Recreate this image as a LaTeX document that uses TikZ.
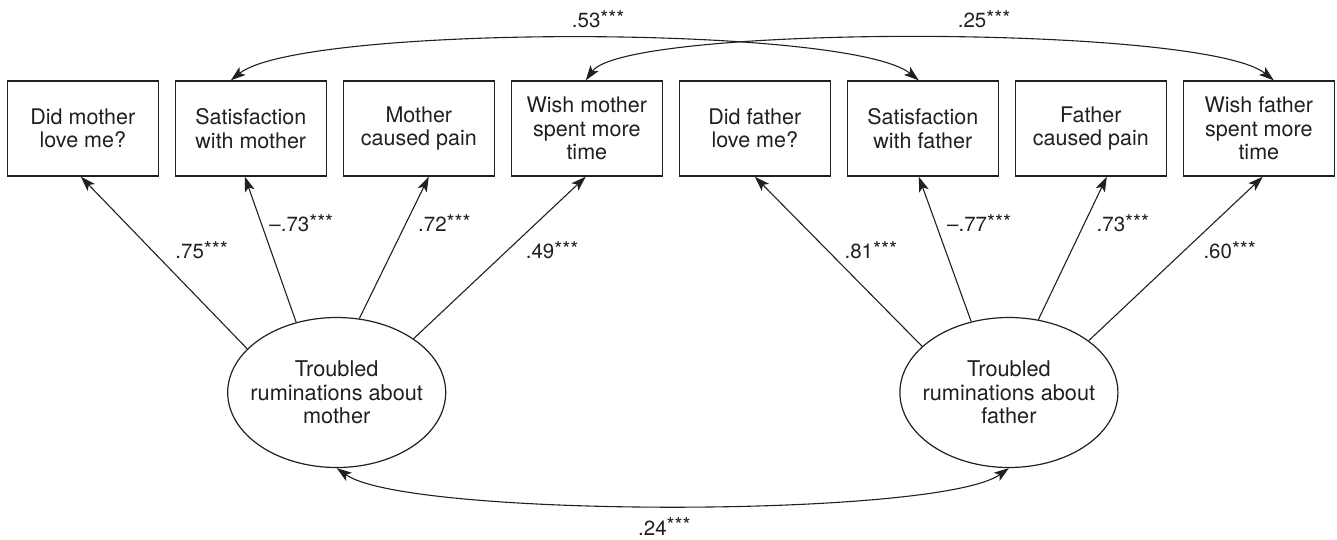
\documentclass[tikz,border=0pt]{standalone}
\usepackage{fontspec}
\setmainfont{TeX Gyre Heros}
\usetikzlibrary{arrows.meta,calc,shapes.geometric}
\definecolor{ink}{RGB}{35,31,32}
\newcommand\sigstars{\raisebox{0.1em}{***}}
\begin{document}
\begin{tikzpicture}[x=1pt,y=-1pt,
  box/.style={draw=ink, line width=1.3pt, minimum width=151pt, minimum height=95pt, inner sep=0pt, align=center, font=\fontsize{21.5}{23.5}\selectfont, text=ink},
  lat/.style={draw=ink, ellipse, line width=1.2pt, minimum width=218pt, minimum height=150pt, inner sep=0pt},
  lattext/.style={align=center, inner sep=0pt, font=\fontsize{21.7}{23.6}\selectfont, text=ink},
  coef/.style={anchor=base west, inner sep=0pt, font=\fontsize{20.5}{22}\selectfont, text=ink},
  tip/.style={-{Stealth[length=15pt,width=10pt,inset=3.5pt]}},
  conn/.style={draw=ink, line width=1.1pt, tip},
  cov/.style={draw=ink, line width=1.1pt, {Stealth[length=15pt,width=10pt,inset=3.5pt]}-{Stealth[length=15pt,width=10pt,inset=3.5pt]}}
]
\useasboundingbox (0,0) rectangle (1337,539);

% observed indicators
\node[box] (b1) at (82.8,128.5)  {Did mother\\love me?};
\node[box] (b2) at (250.8,128.5) {Satisfaction\\with mother};
\node[box] (b3) at (418.8,128.5) {Mother\\caused pain};
\node[box] (b4) at (586.8,128.5) {Wish mother\\spent more\\time};
\node[box] (b5) at (754.8,128.5) {Did father\\love me?};
\node[box] (b6) at (922.8,128.5) {Satisfaction\\with father};
\node[box] (b7) at (1090.8,128.5) {Father\\caused pain};
\node[box] (b8) at (1258.8,128.5) {Wish father\\spent more\\time};

% latent factors
\node[lat] (em) at (336.7,392.5) {};
\node[lattext] (emt) at (em.center) {Troubled\\ruminations about\\mother};
\node[lat] (ef) at (1008.9,392.5) {};
\node[lattext] (eft) at (ef.center) {Troubled\\ruminations about\\father};

% loadings
\draw[conn] (em.154) -- ($(b1.south)+(-2,0)$);
\draw[conn] (em.120) -- ($(b2.south)+(-6,0)$);
\draw[conn] (em.73)  -- ($(b3.south)+(10,0)$);
\draw[conn] (em.35)  -- ($(b4.south)+(-1,0)$);
\draw[conn] (ef.152) -- (b5.south);
\draw[conn] (ef.118) -- ($(b6.south)+(-4,0)$);
\draw[conn] (ef.68)  -- ($(b7.south)+(16,0)$);
\draw[conn] (ef.33)  -- ($(b8.south)+(4,0)$);

% covariances
\draw[cov] ($(b2.north)+(-20,0)$) .. controls +(70,-56) and +(-70,-56) .. ($(b6.north)+(-4,0)$);
\draw[cov] ($(b4.north)+(-1,0)$) .. controls +(40,-56) and +(-70,-56) .. ($(b8.north)+(15,0)$);
\draw[cov] (em.south) .. controls +(70,50) and +(-70,50) .. (ef.south);

% coefficients
\node[coef] (l1)  at (175.2,258.3)  {.75\sigstars};
\node[coef] (l2)  at (269.2,231.7)  {--.73\sigstars};
\node[coef] (l3)  at (418,231.7)    {.72\sigstars};
\node[coef] (l4)  at (525.6,258.3)  {.49\sigstars};
\node[coef] (l5)  at (844.4,258.3)  {.81\sigstars};
\node[coef] (l6)  at (947,231.7)    {--.77\sigstars};
\node[coef] (l7)  at (1096.5,231.7) {.73\sigstars};
\node[coef] (l8)  at (1203.3,258.3) {.60\sigstars};
\node[coef] (l9)  at (571.7,27.3)   {.53\sigstars};
\node[coef] (l10) at (957.6,27.3)   {.25\sigstars};
\node[coef] (l11) at (638,535)      {.24\sigstars};
\end{tikzpicture}
\end{document}
